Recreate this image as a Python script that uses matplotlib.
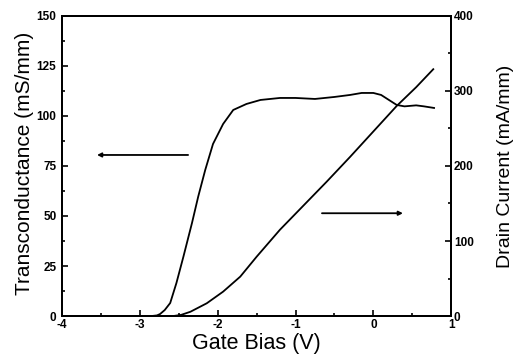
import numpy as np
import matplotlib.pyplot as plt
from matplotlib.ticker import MultipleLocator

plt.rcParams['font.family'] = ['Liberation Sans', 'DejaVu Sans']
plt.rcParams['axes.unicode_minus'] = False

# Transconductance (left axis, mS/mm) vs gate bias
gm_v = [-4.0, -3.2, -2.85, -2.78, -2.74, -2.68, -2.61, -2.53, -2.44, -2.33,
        -2.25, -2.16, -2.06, -1.93, -1.80, -1.63, -1.45,
        -1.2, -1.0, -0.75, -0.5, -0.3, -0.15, 0.0, 0.1, 0.2, 0.3, 0.4, 0.55, 0.65, 0.78]
gm = [0.0, 0.0, 0.0, 0.3, 1.0, 3.0, 6.5, 16.5, 29.7, 46.5,
      59.7, 73.0, 86.0, 96.0, 103.0, 106.0, 108.0,
      109.0, 109.0, 108.5, 109.5, 110.5, 111.5, 111.5, 110.5, 108.0, 105.5, 104.8, 105.3, 104.8, 104.0]

# Drain current (right axis, mA/mm) vs gate bias
id_v = [-4.0, -2.9, -2.57, -2.47, -2.35, -2.14, -1.93, -1.71, -1.50,
        -1.2, -0.9, -0.6, -0.3, 0.0, 0.3, 0.55, 0.77]
idr = [0.0, 0.0, 0.0, 1.5, 5.7, 17.0, 32.5, 52.5, 79.0,
       115.0, 147.0, 179.0, 212.0, 246.0, 280.0, 305.0, 329.0]

fig = plt.figure(figsize=(5.21, 3.62), dpi=100)
ax = fig.add_axes([0.119, 0.127, 0.747, 0.829])
ax2 = ax.twinx()

ax.plot(gm_v, gm, color='black', lw=1.3)
ax2.plot(id_v, idr, color='black', lw=1.3)

ax.set_xlim(-4, 1)
ax.set_ylim(0, 150)
ax2.set_ylim(0, 400)

ax.xaxis.set_major_locator(MultipleLocator(1))
ax.xaxis.set_minor_locator(MultipleLocator(0.5))
ax.yaxis.set_major_locator(MultipleLocator(25))
ax.yaxis.set_minor_locator(MultipleLocator(12.5))
ax2.yaxis.set_major_locator(MultipleLocator(100))
ax2.yaxis.set_minor_locator(MultipleLocator(50))

for a in (ax, ax2):
    a.tick_params(which='both', direction='in', width=1.2, labelsize=8.5, pad=2)
    a.tick_params(which='major', length=4)
    a.tick_params(which='minor', length=2.5)
    for s in a.spines.values():
        s.set_linewidth(1.4)
ax.tick_params(top=False, right=False, which='both')
ax.tick_params(axis='y', pad=4)
ax2.tick_params(which='both', left=False, top=False)

for lab in ax.get_xticklabels() + ax.get_yticklabels() + ax2.get_yticklabels():
    lab.set_fontweight('bold')

ax.set_xlabel('Gate Bias (V)', fontsize=15.5)
ax.set_ylabel('Transconductance (mS/mm)', fontsize=15)
ax2.set_ylabel('Drain Current (mA/mm)', fontsize=14)
ax.xaxis.set_label_coords(0.5, -0.055)
ax.yaxis.set_label_coords(-0.072, 0.51)
ax2.yaxis.set_label_coords(1.118, 0.5)

# arrows pointing to the relevant axis
ax.annotate('', xy=(-3.55, 80.5), xytext=(-2.38, 80.5),
            arrowprops=dict(arrowstyle='-|>', color='black', lw=1.3,
                            mutation_scale=6, shrinkA=0, shrinkB=0))
ax2.annotate('', xy=(0.38, 137), xytext=(-0.66, 137),
             arrowprops=dict(arrowstyle='-|>', color='black', lw=1.3,
                             mutation_scale=6, shrinkA=0, shrinkB=0))

fig.savefig('out.png', dpi=100)
